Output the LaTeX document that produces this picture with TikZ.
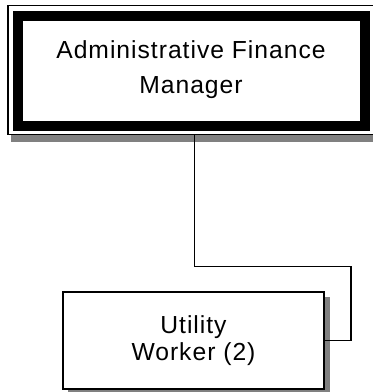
\documentclass[tikz,border=0pt]{standalone}
\usepackage{fontspec}
\setmainfont{Liberation Sans}
\definecolor{shadowgray}{RGB}{128,128,128}
\tikzset{every picture/.style={line width=0.75pt}}
\tikzset{
  orgbox/.style={draw, fill=white, line width=1.1pt, inner sep=0pt, align=center},
  toptext/.style={font=\fontsize{18.5}{26.25}\selectfont\addfontfeature{LetterSpace=4}},
  subtext/.style={font=\fontsize{18.5}{20}\selectfont\addfontfeature{LetterSpace=4}},
}

\begin{document}
\begin{tikzpicture}[x=0.75pt,y=0.75pt,yscale=-1,xscale=1]
%set diagram area to 372 x 392
\useasboundingbox (0,0) rectangle (372,392);

%Shadows
\fill[shadowgray] (11,13.5) rectangle (377,142.5);
\fill[shadowgray] (68,297) rectangle (329.5,395);

%Top box
\node[orgbox, toptext, minimum width=274.5pt, minimum height=96.75pt] (afm) at (191,70) {Administrative Finance\\Manager};
%Thick frame
\draw[line width=7.5pt] (18,16) rectangle (364.5,126.5);

%Bottom box
\node[orgbox, subtext, minimum width=195.75pt, minimum height=72.75pt] (uw) at (193.5,340.5) {Utility\\Worker (2)};

%Connector
\coordinate (drop) at (194.5,134.5);
\coordinate (bend) at (351,266.7);
\draw[line width=1.1pt] (drop) |- (bend) |- (uw.east);
\end{tikzpicture}
\end{document}
